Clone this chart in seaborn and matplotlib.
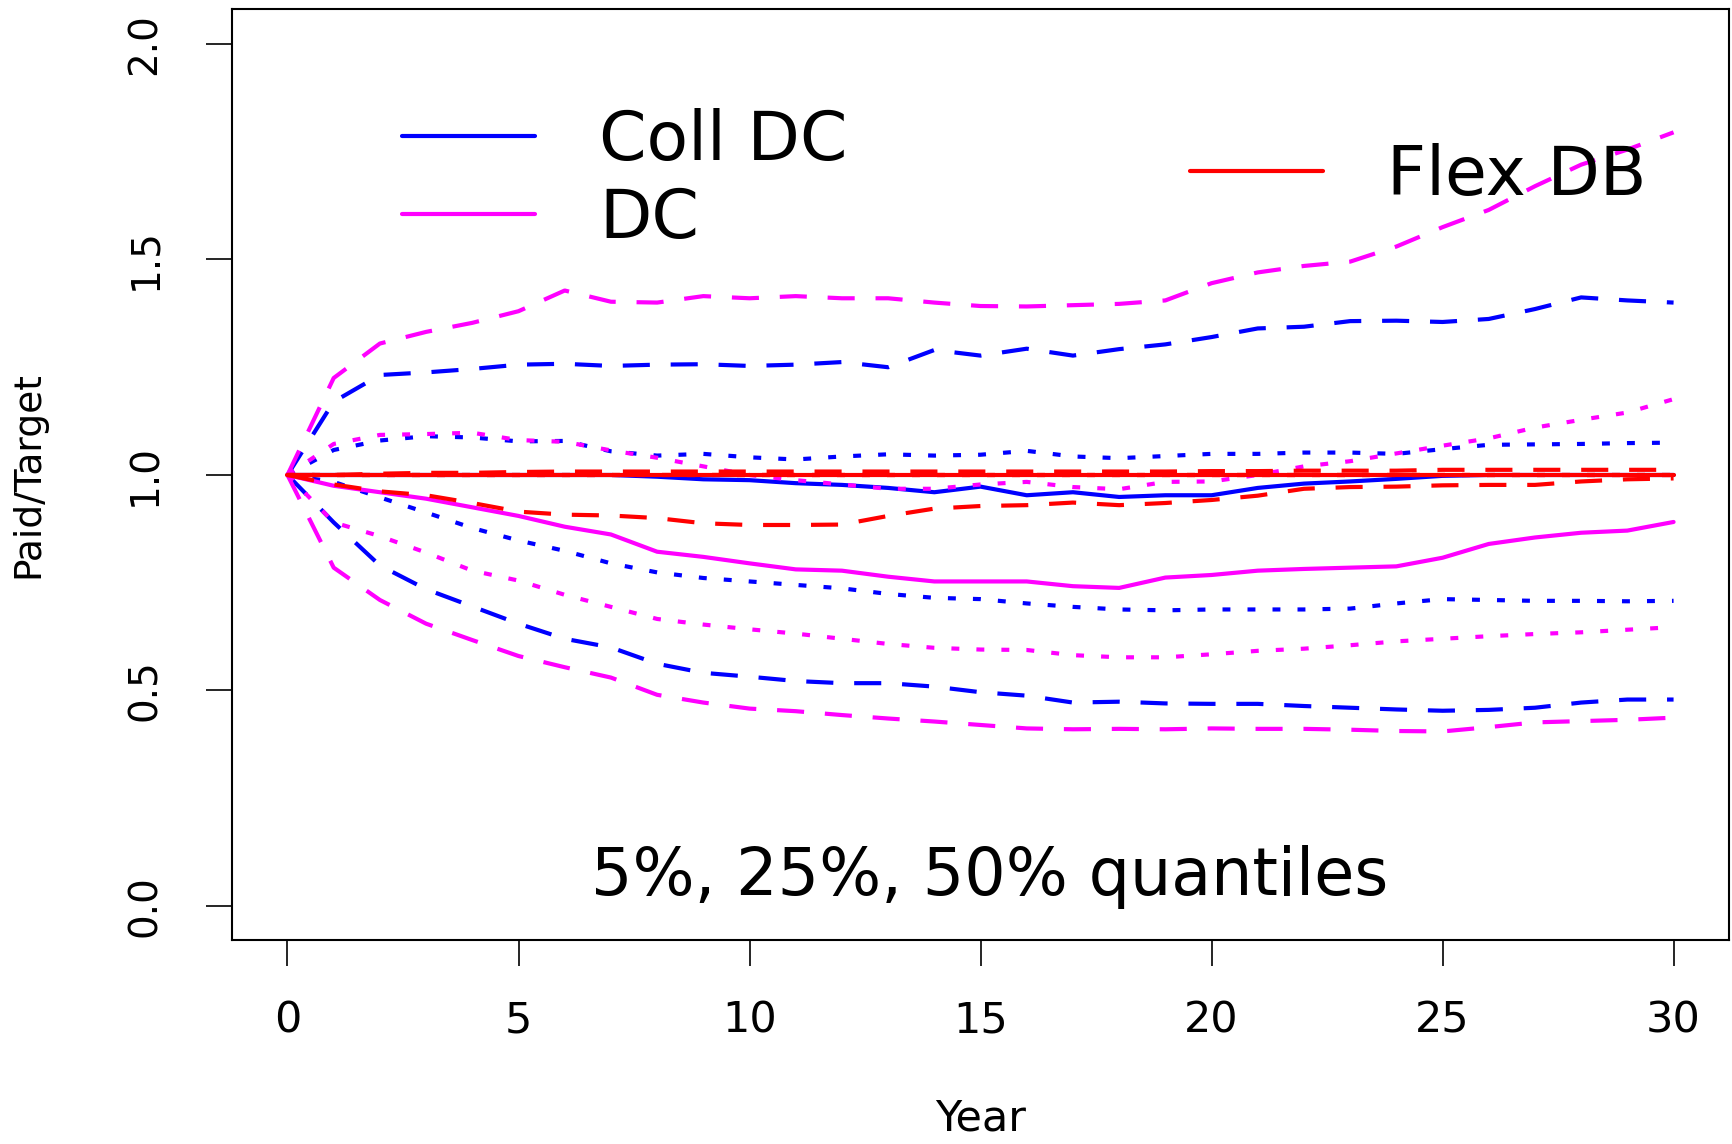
import matplotlib
matplotlib.use("Agg")
import matplotlib.pyplot as plt
from matplotlib.lines import Line2D
import numpy as np
import pandas as pd
import seaborn as sns

# -------------------- data --------------------
years = list(range(31))
schemes = ["Coll DC", "DC", "Flex DB"]
quantiles = ["5%", "25%", "50%", "75%", "95%"]

# Coll DC
coll_p5 = [1.0, 0.89, 0.79, 0.735, 0.695, 0.655, 0.62, 0.60, 0.562, 0.541, 0.532, 0.522, 0.517, 0.517, 0.509,
           0.496, 0.488, 0.472, 0.474, 0.470, 0.469, 0.469, 0.464, 0.460, 0.456, 0.453, 0.455, 0.460, 0.472, 0.479, 0.479]
coll_p25 = [1.0, 0.984, 0.948, 0.913, 0.877, 0.848, 0.824, 0.795, 0.774, 0.761, 0.753, 0.745, 0.737, 0.724, 0.715,
            0.712, 0.702, 0.694, 0.688, 0.686, 0.688, 0.688, 0.688, 0.690, 0.702, 0.712, 0.710, 0.708, 0.708, 0.707, 0.708]
coll_p50 = [1.0, 1.0, 1.0, 1.0, 1.0, 1.0, 1.0, 1.0, 0.996, 0.99, 0.988, 0.981, 0.977, 0.970, 0.960,
            0.973, 0.953, 0.960, 0.949, 0.953, 0.953, 0.970, 0.980, 0.985, 0.991, 0.998, 1.0, 1.0, 1.0, 1.0, 1.0]
coll_p75 = [1.0, 1.058, 1.08, 1.09, 1.087, 1.078, 1.079, 1.055, 1.045, 1.049, 1.041, 1.036, 1.043, 1.048, 1.045,
            1.047, 1.056, 1.043, 1.039, 1.044, 1.049, 1.049, 1.052, 1.052, 1.049, 1.060, 1.070, 1.071, 1.072, 1.074, 1.075]
coll_p95 = [1.0, 1.17, 1.232, 1.238, 1.246, 1.256, 1.258, 1.253, 1.256, 1.257, 1.253, 1.256, 1.262, 1.250, 1.290,
            1.277, 1.293, 1.277, 1.292, 1.303, 1.320, 1.340, 1.344, 1.357, 1.358, 1.355, 1.362, 1.385, 1.412, 1.405, 1.400]

# DC
dc_p5 = [1.0, 0.785, 0.71, 0.655, 0.617, 0.58, 0.554, 0.53, 0.49, 0.472, 0.458, 0.452, 0.443, 0.435, 0.428,
         0.42, 0.412, 0.41, 0.411, 0.41, 0.412, 0.411, 0.411, 0.409, 0.406, 0.405, 0.415, 0.426, 0.429, 0.432, 0.437]
dc_p25 = [1.0, 0.89, 0.858, 0.82, 0.778, 0.755, 0.722, 0.694, 0.666, 0.653, 0.642, 0.632, 0.62, 0.608, 0.599,
          0.595, 0.594, 0.582, 0.577, 0.577, 0.584, 0.592, 0.597, 0.605, 0.614, 0.62, 0.626, 0.631, 0.635, 0.641, 0.647]
dc_p50 = [1.0, 0.975, 0.96, 0.945, 0.925, 0.905, 0.88, 0.862, 0.822, 0.81, 0.795, 0.781, 0.778, 0.764, 0.753,
          0.753, 0.753, 0.742, 0.738, 0.762, 0.768, 0.778, 0.782, 0.785, 0.788, 0.808, 0.84, 0.855, 0.866, 0.871, 0.891]
dc_p75 = [1.0, 1.072, 1.093, 1.095, 1.098, 1.081, 1.077, 1.057, 1.04, 1.02, 1.0, 0.988, 0.978, 0.968, 0.968,
          0.978, 0.984, 0.972, 0.967, 0.984, 0.985, 1.0, 1.02, 1.032, 1.05, 1.068, 1.085, 1.11, 1.128, 1.145, 1.176]
dc_p95 = [1.0, 1.225, 1.305, 1.332, 1.353, 1.38, 1.428, 1.402, 1.40, 1.415, 1.41, 1.415, 1.41, 1.41, 1.40,
          1.392, 1.391, 1.394, 1.397, 1.405, 1.445, 1.47, 1.485, 1.495, 1.53, 1.575, 1.615, 1.67, 1.72, 1.755, 1.795]

# Flex DB
flex_p5 = [1.0, 0.978, 0.962, 0.953, 0.935, 0.915, 0.908, 0.906, 0.9, 0.888, 0.884, 0.884, 0.885, 0.905, 0.922,
           0.928, 0.93, 0.936, 0.93, 0.935, 0.942, 0.952, 0.968, 0.972, 0.973, 0.976, 0.977, 0.977, 0.985, 0.99, 0.992]
flex_p25 = [1.0] * 31
flex_p50 = [1.0] * 31
flex_p75 = [1.0] * 31
flex_p95 = [1.0, 1.0, 1.003, 1.005, 1.005, 1.007, 1.008, 1.008, 1.008, 1.008, 1.008, 1.008, 1.008, 1.008, 1.008,
            1.008, 1.008, 1.008, 1.008, 1.008, 1.009, 1.009, 1.01, 1.01, 1.01, 1.012, 1.012, 1.012, 1.012, 1.012, 1.012]

series = {
    "Coll DC": [coll_p5, coll_p25, coll_p50, coll_p75, coll_p95],
    "DC": [dc_p5, dc_p25, dc_p50, dc_p75, dc_p95],
    "Flex DB": [flex_p5, flex_p25, flex_p50, flex_p75, flex_p95],
}

rows = []
for s in schemes:
    for q, vals in zip(quantiles, series[s]):
        for yr, v in zip(years, vals):
            rows.append((s, q, yr, v))
df = pd.DataFrame(rows, columns=["scheme", "quantile", "year", "value"])

colors = {"Coll DC": "#0000FF", "DC": "#FF00FF", "Flex DB": "#FF0000"}
dash = (6.5, 5.0)   # in units of line width
dot = (1.9, 4.1)
dashes = {"5%": dash, "25%": dot, "50%": "", "75%": dot, "95%": dash}
LW = 3.0

# -------------------- plot --------------------
sns.set_style("ticks")
plt.rcParams["font.family"] = ["DejaVu Sans"]
plt.rcParams["text.color"] = "black"
plt.rcParams["axes.labelcolor"] = "black"

fig = plt.figure(figsize=(17.33, 11.44), dpi=100)
ax = fig.add_axes([0.1339, 0.1779, 0.8638, 0.8138])

# flex DB drawn last so its solid line sits on top at 1.0
sns.lineplot(data=df, x="year", y="value", hue="scheme", style="quantile",
             hue_order=schemes, style_order=quantiles, palette=colors, dashes=dashes,
             estimator=None, sort=False, lw=LW, legend=False, ax=ax)

ax.set_xlim(-1.2, 31.2)
ax.set_ylim(-0.08, 2.08)
ax.set_xticks([0, 5, 10, 15, 20, 25, 30])
ax.set_yticks([0.0, 0.5, 1.0, 1.5, 2.0])
ax.set_yticklabels(["0.0", "0.5", "1.0", "1.5", "2.0"])
ax.tick_params(axis="both", direction="out", length=19, width=1.2, colors="black", labelcolor="black")
ax.tick_params(axis="x", labelsize=31, pad=23.5)
ax.tick_params(axis="y", labelsize=28, pad=30, labelrotation=90)
for lab in ax.get_yticklabels():
    lab.set_va("center")
for sp in ax.spines.values():
    sp.set_visible(True)
    sp.set_linewidth(1.5)
    sp.set_color("black")

ax.set_xlabel("Year", fontsize=31, labelpad=40)
ax.set_ylabel("Paid/Target", fontsize=27, labelpad=57)

ax.text(15.2, 0.025, "5%, 25%, 50% quantiles", ha="center", va="baseline", fontsize=47)

h1 = [Line2D([], [], color=colors["Coll DC"], lw=LW), Line2D([], [], color=colors["DC"], lw=LW)]
leg1 = ax.legend(h1, ["Coll DC", "DC"], loc="upper left", bbox_to_anchor=(0.232, 0.906),
                 bbox_transform=fig.transFigure, frameon=False, fontsize=49, handlelength=1.96,
                 handletextpad=0.94, labelspacing=0.18, borderpad=0, borderaxespad=0)
ax.add_artist(leg1)
h2 = [Line2D([], [], color=colors["Flex DB"], lw=LW)]
ax.legend(h2, ["Flex DB"], loc="upper left", bbox_to_anchor=(0.6867, 0.8753),
          bbox_transform=fig.transFigure, frameon=False, fontsize=49, handlelength=1.96,
          handletextpad=0.94, borderpad=0, borderaxespad=0)

fig.savefig("out.png", dpi=100)
